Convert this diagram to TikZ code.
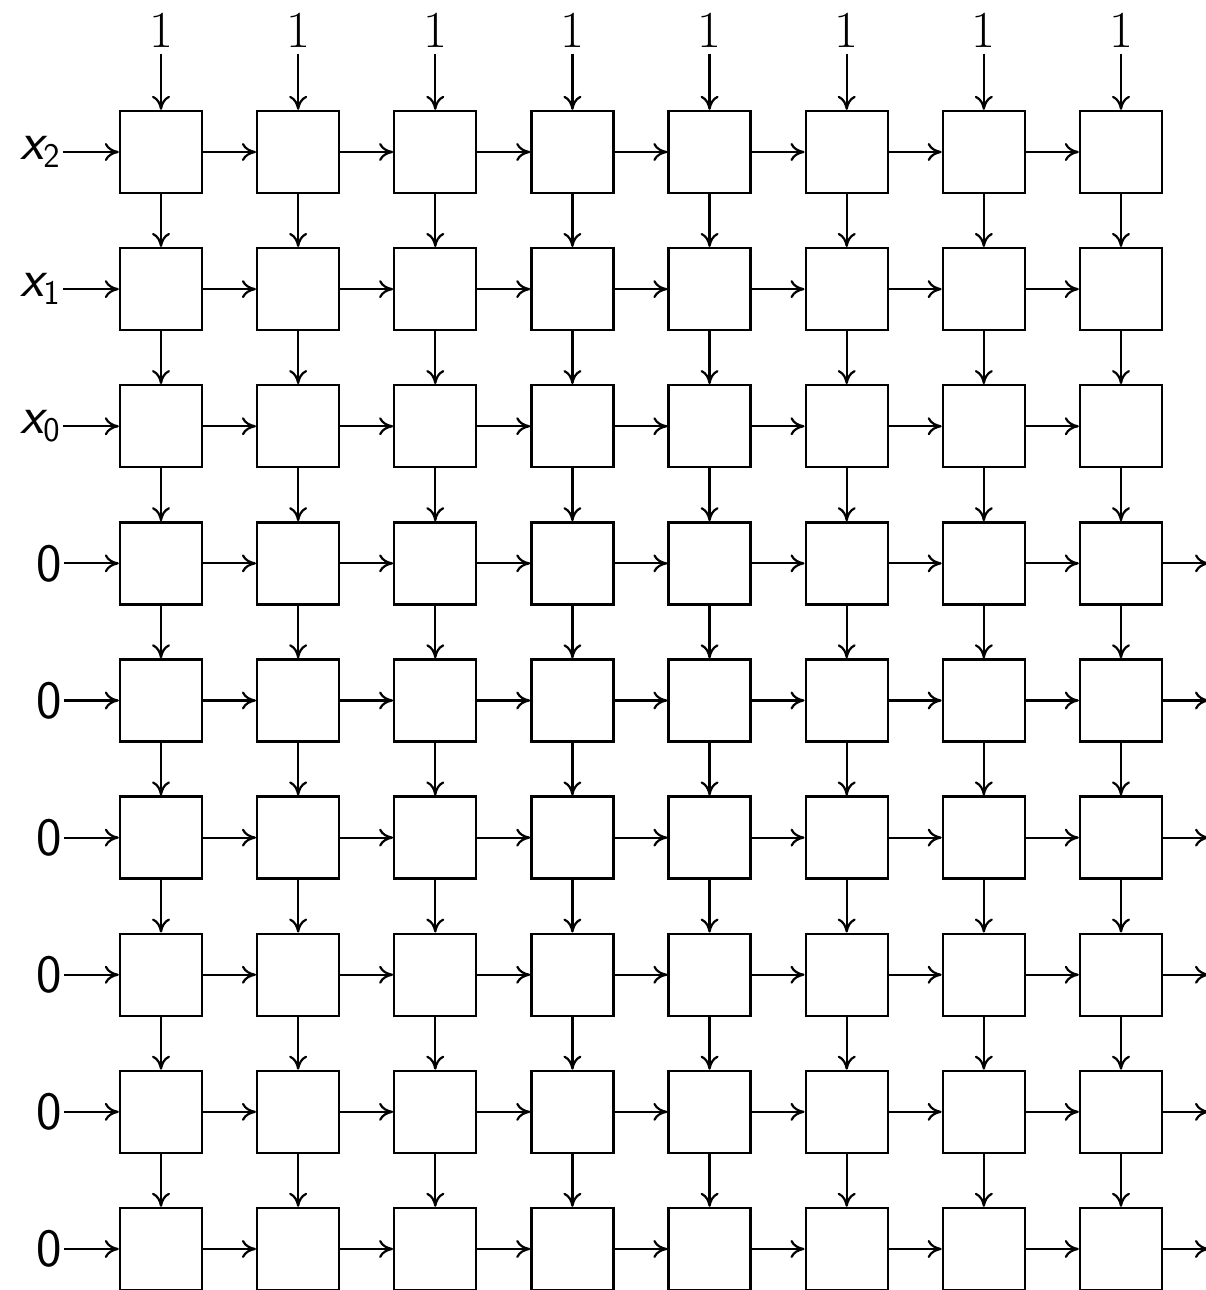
\documentclass[tikz,border=0pt]{standalone}
\usepackage{tikz}
\usetikzlibrary{positioning,arrows.meta}
\tikzset{
  cell/.style={rectangle, draw, fill=white, line width=1.2pt,
               minimum size=41pt, inner sep=0pt},
  flow/.style={-{To[length=7pt,width=9pt]}, line width=1.1pt},
  toplbl/.style={font=\fontsize{26}{30}\selectfont, inner sep=3pt},
  inlbl/.style={font=\fontsize{27}{31}\selectfont\sffamily, anchor=east, inner sep=1pt},
}

\begin{document}
\begin{tikzpicture}[x=0.5pt,y=-0.5pt]
  \useasboundingbox (0,0) rectangle (1205,1290);

  % grid of cells: 8 columns, 9 rows
  \foreach \c in {0,...,7}{
    \foreach \r in {0,...,8}{
      \node[cell] (b\c-\r) at ({161+137.14*\c},{152+137.12*\r}) {};
    }
  }

  % ones on top
  \foreach \c in {0,...,7}{
    \node[toplbl] (t\c) at ({161+137.14*\c},30) {1};
    \draw[flow] (t\c) -- (b\c-0);
  }

  % vertical links
  \foreach \c in {0,...,7}{
    \foreach \r in {0,...,7}{
      \pgfmathtruncatemacro{\n}{\r+1}
      \draw[flow] (b\c-\r) -- (b\c-\n);
    }
  }

  % horizontal links
  \foreach \r in {0,...,8}{
    \foreach \c in {0,...,6}{
      \pgfmathtruncatemacro{\n}{\c+1}
      \draw[flow] (b\c-\r) -- (b\n-\r);
    }
  }

  % inputs on the left
  \node[inlbl] (in0) at (63,152) {\slshape x$_{\mathsf{2}}$};
  \node[inlbl] (in1) at (63,289) {\slshape x$_{\mathsf{1}}$};
  \node[inlbl] (in2) at (63,426) {\slshape x$_{\mathsf{0}}$};
  \foreach \r in {3,...,8}{
    \node[inlbl] (in\r) at (64,{152+137.12*\r}) {0};
  }
  \foreach \r in {0,...,8}{
    \draw[flow] (in\r.east |- b0-\r) -- (b0-\r);
  }

  % outputs on the right
  \foreach \r in {3,...,8}{
    \coordinate (out\r) at (1209,{152+137.12*\r});
    \draw[flow] (b7-\r) -- (out\r);
  }
\end{tikzpicture}
\end{document}
